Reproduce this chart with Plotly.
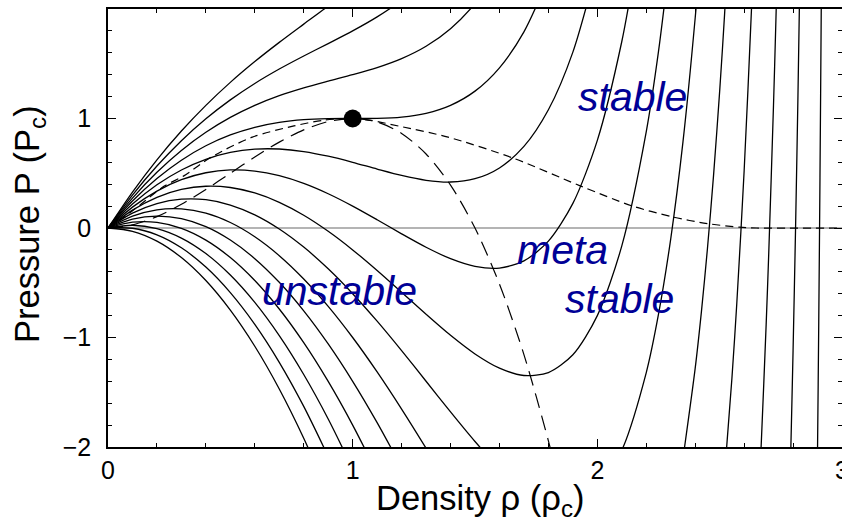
import plotly.graph_objects as go

# ---------------- data ----------------
# shared density grid for the left (gas-side) branches of the isotherms
RHO_GRID = [0.0, 0.1, 0.2, 0.3, 0.4, 0.5, 0.6, 0.7, 0.8, 0.9, 1.0,
            1.1, 1.2, 1.3, 1.4, 1.5, 1.6, 1.7, 1.8, 1.9, 2.0]

# isotherm labels (reduced temperature)
T_LABELS = ["1.3", "1.2", "1.1", "1.0", "0.9", "0.8", "0.7",
            "0.6", "0.5", "0.4", "0.3", "0.2", "0.1", "0.0"]

P_LEFT_13 = [0, 0.3286, 0.6229, 0.8856, 1.12, 1.33, 1.52, 1.6952, 1.8618, 2.0271, 2.2]
P_LEFT_12 = [0, 0.3010, 0.5657, 0.7967, 0.9969, 1.17, 1.32, 1.4517, 1.5709, 1.6843,
             1.8, 1.9279, 2.08, 2.2712]
P_LEFT_11 = [0, 0.2734, 0.5086, 0.7078, 0.8738, 1.01, 1.12, 1.2083, 1.28, 1.3414,
             1.4, 1.4647, 1.5467, 1.6594, 1.82, 2.05, 2.3771]
P_LEFT_10 = [0, 0.2459, 0.4514, 0.6189, 0.7508, 0.85, 0.92, 0.9648, 0.9891, 0.9986,
             1.0, 1.0016, 1.0133, 1.0476, 1.12, 1.25, 1.4629, 1.7915, 2.28]
P_LEFT_09 = [0, 0.2183, 0.3943, 0.53, 0.6277, 0.69, 0.72, 0.7213, 0.6982, 0.6557,
             0.6, 0.5384, 0.48, 0.4359, 0.42, 0.45, 0.5486, 0.7454, 1.08, 1.6064, 2.4]
P_LEFT_08 = [0, 0.1907, 0.3371, 0.4411, 0.5046, 0.53, 0.52, 0.4778, 0.4073, 0.3129,
             0.2, 0.0753, -0.0533, -0.1759, -0.28, -0.35, -0.3657, -0.3008, -0.12, 0.2245, 0.8]
P_LEFT_07 = [0, 0.1631, 0.28, 0.3522, 0.3815, 0.37, 0.32, 0.2343, 0.1164, -0.03,
             -0.2, -0.3879, -0.5867, -0.7876, -0.98, -1.15, -1.28, -1.3469, -1.32, -1.1573, -0.8]
P_LEFT_06 = [0, 0.1355, 0.2229, 0.2633, 0.2585, 0.21, 0.12, -0.0091, -0.1745, -0.3729,
             -0.6, -0.8511, -1.12, -1.3994, -1.68, -1.95, -2.1943, -2.3931, -2.52, -2.5391, -2.4]
P_LEFT_05 = [0, 0.1079, 0.1657, 0.1744, 0.1354, 0.05, -0.08, -0.2526, -0.4655, -0.7157,
             -1.0, -1.3142, -1.6533, -2.0112, -2.38]
P_LEFT_04 = [0, 0.0803, 0.1086, 0.0856, 0.0123, -0.11, -0.28, -0.4961, -0.7564, -1.0586,
             -1.4, -1.7774, -2.1867]
P_LEFT_03 = [0, 0.0528, 0.0514, -0.0033, -0.1108, -0.27, -0.48, -0.7396, -1.0473, -1.4014,
             -1.8, -2.2405]
P_LEFT_02 = [0, 0.0252, -0.0057, -0.0922, -0.2338, -0.43, -0.68, -0.983, -1.3382, -1.7443, -2.2]
P_LEFT_01 = [0, -0.0024, -0.0629, -0.1811, -0.3569, -0.59, -0.88, -1.2265, -1.6291, -2.0871]
P_LEFT_00 = [0, -0.03, -0.12, -0.27, -0.48, -0.75, -1.08, -1.47, -1.92, -2.43]

# right (liquid-side) branches
RHO_RIGHT_08 = [2.1, 2.15]
P_RIGHT_08 = [1.7033, 2.3207]
RHO_RIGHT_07 = [2.1, 2.2, 2.25, 2.3]
P_RIGHT_07 = [-0.1633, 0.88, 1.6125, 2.53]
RHO_RIGHT_06 = [2.1, 2.2, 2.25, 2.3, 2.35, 2.4, 2.42]
P_RIGHT_06 = [-2.03, -1.32, -0.7875, -0.0986, 0.7863, 1.92, 2.4584]
RHO_RIGHT_05 = [2.35, 2.4, 2.425, 2.45, 2.475, 2.5, 2.52, 2.55]
P_RIGHT_05 = [-2.106, -1.28, -0.7723, -0.1893, 0.4803, 1.25, 1.9488, 3.1592]
RHO_RIGHT_04 = [2.52, 2.55, 2.57, 2.6, 2.63, 2.65]
P_RIGHT_04 = [-2.2512, -1.3742, -0.6891, 0.52, 1.9952, 3.1611]
RHO_RIGHT_03 = [2.66, 2.67, 2.69, 2.7, 2.72, 2.73, 2.74]
P_RIGHT_03 = [-2.4503, -1.9685, -0.8825, -0.27, 1.1191, 1.908, 2.7695]
RHO_RIGHT_02 = [2.785, 2.79, 2.8, 2.81, 2.82, 2.83]
P_RIGHT_02 = [-2.5431, -2.0952, -1.12, -0.0251, 1.2095, 2.6086]
RHO_RIGHT_01 = [2.895, 2.9, 2.905, 2.91, 2.915, 2.92]
P_RIGHT_01 = [-3.0859, -2.03, -0.8539, 0.4624, 1.9436, 3.6208]

# spinodal (long dashes)
RHO_SPIN = [0, 0.1, 0.2, 0.3, 0.4, 0.5, 0.6, 0.7, 0.8, 0.9, 1.0,
            1.1, 1.2, 1.3, 1.4, 1.5, 1.6, 1.7, 1.8, 1.85]
P_SPIN = [0, 0.028, 0.104, 0.216, 0.352, 0.5, 0.648, 0.784, 0.896, 0.972, 1.0,
          0.968, 0.864, 0.676, 0.392, 0.0, -0.512, -1.156, -1.944, -2.396]

# coexistence curve (short dashes)
RHO_BIN = [0, 0.03, 0.058, 0.125, 0.23, 0.31, 0.42, 0.59, 0.76, 0.88, 1.0,
           1.08, 1.19, 1.39, 1.66, 1.93, 2.14, 2.31, 2.45, 2.58, 2.65, 3.0]
P_BIN = [0, 0.045, 0.087, 0.2, 0.383, 0.476, 0.645, 0.83, 0.932, 0.984, 1.0,
         0.98, 0.93, 0.83, 0.635, 0.385, 0.203, 0.1, 0.04, 0.008, 0.0, 0.0]

CRIT_RHO = [1.0]
CRIT_P = [1.0]

REGION_TEXT = ["stable", "meta", "stable", "unstable"]
REGION_RHO = [2.143, 1.858, 2.09, 0.945]
REGION_P = [1.195, -0.205, -0.65, -0.575]

X_TICKS = [0, 1, 2, 3]
Y_TICKS = [-2, -1, 0, 1]

# ---------------- figure ----------------
FONT = "Liberation Sans, Arial, Helvetica, sans-serif"

LEFTS = [P_LEFT_13, P_LEFT_12, P_LEFT_11, P_LEFT_10, P_LEFT_09, P_LEFT_08, P_LEFT_07,
         P_LEFT_06, P_LEFT_05, P_LEFT_04, P_LEFT_03, P_LEFT_02, P_LEFT_01, P_LEFT_00]
RIGHTS = [None, None, None, None, None,
          (RHO_RIGHT_08, P_RIGHT_08, True), (RHO_RIGHT_07, P_RIGHT_07, True),
          (RHO_RIGHT_06, P_RIGHT_06, True), (RHO_RIGHT_05, P_RIGHT_05, False),
          (RHO_RIGHT_04, P_RIGHT_04, False), (RHO_RIGHT_03, P_RIGHT_03, False),
          (RHO_RIGHT_02, P_RIGHT_02, False), (RHO_RIGHT_01, P_RIGHT_01, False), None]

fig = go.Figure()

for lab, pl, right in zip(T_LABELS, LEFTS, RIGHTS):
    xs = list(RHO_GRID[:len(pl)])
    ys = list(pl)
    if right is not None:
        rr, pr, joined = right
        if not joined:
            xs.append(None)
            ys.append(None)
        xs += rr
        ys += pr
    fig.add_trace(go.Scatter(x=xs, y=ys, mode="lines", name="T=" + lab,
                             line=dict(color="black", width=1.3, shape="spline", smoothing=0.8),
                             connectgaps=False, showlegend=False, hoverinfo="skip"))

fig.add_trace(go.Scatter(x=RHO_SPIN, y=P_SPIN, mode="lines",
                         line=dict(color="black", width=1.2, dash="15px,8px",
                                   shape="spline", smoothing=0.8),
                         showlegend=False, hoverinfo="skip"))
fig.add_trace(go.Scatter(x=RHO_BIN, y=P_BIN, mode="lines",
                         line=dict(color="black", width=1.2, dash="8px,5px",
                                   shape="spline", smoothing=0.8),
                         showlegend=False, hoverinfo="skip"))
fig.add_trace(go.Scatter(x=CRIT_RHO, y=CRIT_P, mode="markers",
                         marker=dict(color="black", size=18),
                         showlegend=False, hoverinfo="skip"))
# carrier for the mirrored (top / right) tick axes
fig.add_trace(go.Scatter(x=[None], y=[None], xaxis="x2", yaxis="y2", mode="markers",
                         showlegend=False, hoverinfo="skip"))

for t, x, y in zip(REGION_TEXT, REGION_RHO, REGION_P):
    fig.add_annotation(x=x, y=y, xref="x", yref="y", text="<i>" + t + "</i>",
                       showarrow=False, xanchor="center", yanchor="middle",
                       font=dict(family=FONT, size=41, color="#000096"))

# axis titles
fig.add_annotation(x=(480 - 108) / 734, y=-(500 - 447) / 438, xref="paper", yref="paper",
                   text="Density ρ (ρ<sub>c</sub>)", showarrow=False,
                   xanchor="center", yanchor="middle",
                   font=dict(family=FONT, size=34.5, color="black"))
fig.add_annotation(x=(29 - 108) / 734, y=(447 - 224) / 438, xref="paper", yref="paper",
                   text="Pressure P (P<sub>c</sub>)", showarrow=False, textangle=-90,
                   xanchor="center", yanchor="middle",
                   font=dict(family=FONT, size=34.5, color="black"))

minor_x = dict(ticks="inside", ticklen=4, tickwidth=1.2, tickcolor="black",
               tickmode="linear", tick0=0, dtick=0.2)
minor_y = dict(ticks="inside", ticklen=4, tickwidth=1.2, tickcolor="black",
               tickmode="linear", tick0=0, dtick=0.2)

fig.update_layout(
    width=842, height=524,
    margin=dict(l=108, r=0, t=9, b=77, pad=0, autoexpand=False),
    plot_bgcolor="white", paper_bgcolor="white",
    font=dict(family=FONT, color="black"),
    xaxis=dict(range=[0, 3], tickmode="array", tickvals=X_TICKS,
               showline=True, linecolor="black", linewidth=1.5,
               ticks="inside", ticklen=8, tickwidth=1.2, tickcolor="black",
               minor=minor_x, showgrid=False, zeroline=False, automargin=False,
               tickfont=dict(size=25, family=FONT), ticklabelstandoff=0,
               ticklabeloverflow="allow"),
    yaxis=dict(range=[-2, 2], tickmode="array", tickvals=Y_TICKS,
               showline=True, linecolor="black", linewidth=1.5,
               ticks="inside", ticklen=8, tickwidth=1.2, tickcolor="black",
               minor=minor_y, showgrid=False, automargin=False,
               zeroline=True, zerolinecolor="#b4b4b4", zerolinewidth=1.5,
               tickfont=dict(size=25, family=FONT), ticklabelstandoff=10),
    xaxis2=dict(range=[0, 3], overlaying="x", side="top", anchor="y2",
                tickmode="array", tickvals=X_TICKS, showticklabels=False,
                showline=True, linecolor="black", linewidth=1.5, automargin=False,
                ticks="inside", ticklen=8, tickwidth=1.2, tickcolor="black",
                minor=minor_x, showgrid=False, zeroline=False),
    yaxis2=dict(range=[-2, 2], overlaying="y", side="right", anchor="x2",
                tickmode="array", tickvals=Y_TICKS, showticklabels=False,
                showline=False, linewidth=0, linecolor="rgba(0,0,0,0)", automargin=False,
                ticks="inside", ticklen=8, tickwidth=1.2,
                tickcolor="black", minor=minor_y, showgrid=False, zeroline=False),
)

fig.write_html("out.html")
